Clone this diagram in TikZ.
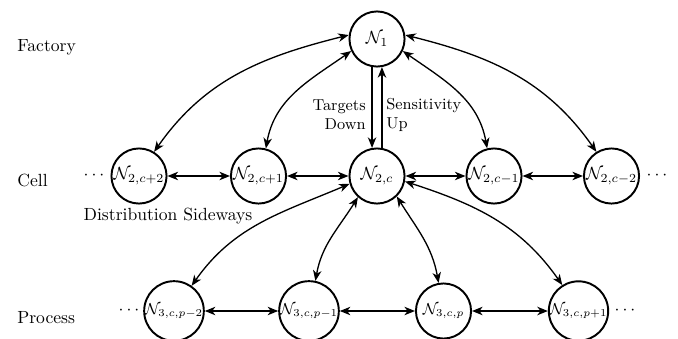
\documentclass[tikz,border=0pt]{standalone}
\usetikzlibrary{arrows.meta}
\begin{document}
\begin{tikzpicture}[x=0.568pt,y=-0.568pt,
  every node/.style={inner sep=0pt},
  nd/.style={circle,draw,line width=1.1pt,minimum size=31.3pt,inner sep=0pt},
  lbl/.style={anchor=base west},
  arr/.style={line width=0.75pt,{Stealth[length=6pt,width=4.8pt,inset=1.8pt]}-{Stealth[length=6pt,width=4.8pt,inset=1.8pt]}},
  one/.style={line width=0.75pt,-{Stealth[length=6pt,width=4.8pt,inset=1.8pt]}}]
\useasboundingbox (0,0) rectangle (678,339);

% level labels
\node[lbl] (lf) at (17,51) {Factory};
\node[lbl] (lc) at (17,186) {Cell};
\node[lbl] (lp) at (17,323) {Process};

% nodes
\node[nd] (n1) at (377,39) {$\mathcal{N}_1$};
\node[nd] (c2) at (139,176) {$\mathcal{N}_{2,c+2}$};
\node[nd] (c1) at (258.5,176) {$\mathcal{N}_{2,c+1}$};
\node[nd] (c0) at (377,176) {$\mathcal{N}_{2,c}$};
\node[nd] (cm1) at (494,176) {$\mathcal{N}_{2,c-1}$};
\node[nd] (cm2) at (611.5,176) {$\mathcal{N}_{2,c-2}$};
\node[nd,font=\small] (p2) at (174,311) {$\mathcal{N}_{3,c,p-2}$};
\node[nd,font=\small] (p1) at (309,311) {$\mathcal{N}_{3,c,p-1}$};
\node[nd,font=\small] (p0) at (443.5,311) {$\mathcal{N}_{3,c,p}$};
\node[nd,font=\small] (pp1) at (578.5,311) {$\mathcal{N}_{3,c,p+1}$};

% dots
\node (dcl) at (94,176) {$\cdots$};
\node (dcr) at (657,176) {$\cdots$};
\node (dpl) at (129,311) {$\cdots$};
\node (dpr) at (625,311) {$\cdots$};

% texts
\node[font=\small,align=right,anchor=east] (td) at (366,115) {Targets\\Down};
\node[font=\small,align=left,anchor=west] (su) at (386,115) {Sensitivity\\Up};
\node (ds) at (168,216) {Distribution Sideways};

% vertical arrows
\draw[one] (n1.260) -- (c0.100);
\draw[one] (c0.80) -- (n1.280);

% factory to cells
\draw[arr] (n1.172) to[out=194,in=55] (c2.58);
\draw[arr] (n1.205) to[out=215,in=80] (c1.75);
\draw[arr] (n1.335) to[out=-35,in=100] (cm1.104);
\draw[arr] (n1.8) to[out=-14,in=125] (cm2.122);

% sideways cells
\draw[arr] (c2) -- (c1);
\draw[arr] (c1) -- (c0);
\draw[arr] (c0) -- (cm1);
\draw[arr] (cm1) -- (cm2);

% cell to processes
\draw[arr] (c0.196) to[out=203,in=55] (p2.55);
\draw[arr] (c0.228) to[out=238,in=80] (p1.78);
\draw[arr] (c0.314) to[out=302,in=100] (p0.100);
\draw[arr] (c0.349) to[out=-18,in=125] (pp1.122);

% sideways processes
\draw[arr] (p2) -- (p1);
\draw[arr] (p1) -- (p0);
\draw[arr] (p0) -- (pp1);
\end{tikzpicture}
\end{document}
